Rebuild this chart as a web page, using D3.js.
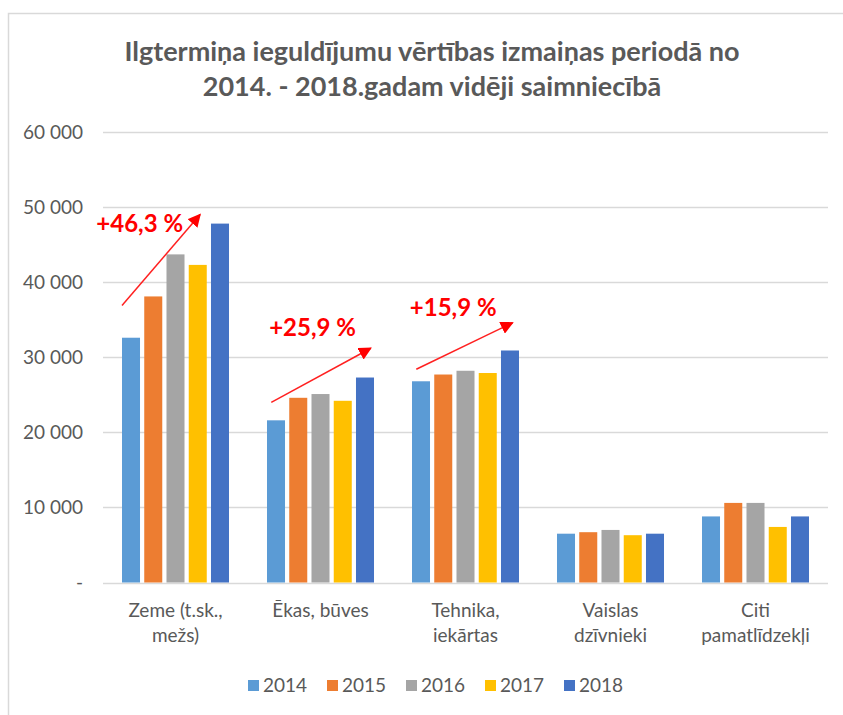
<!DOCTYPE html>
<html><head><meta charset="utf-8">
<script src="https://cdn.jsdelivr.net/npm/d3@7"></script>
<style>
html,body{margin:0;padding:0;background:#fff;}
svg{display:block;font-family:Lato,"Open Sans",sans-serif;}
</style></head>
<body>
<svg id="chart" width="843" height="715"></svg>
<script>
const titleLines = ["Ilgtermiņa ieguldījumu vērtības izmaiņas periodā no", "2014. - 2018.gadam vidēji saimniecībā"];
const categories = ["Zeme (t.sk., mežs)", "Ēkas, būves", "Tehnika, iekārtas", "Vaislas dzīvnieki", "Citi pamatlīdzekļi"];
const categoryLines = [["Zeme (t.sk.,", "mežs)"], ["Ēkas, būves"], ["Tehnika,", "iekārtas"], ["Vaislas", "dzīvnieki"], ["Citi", "pamatlīdzekļi"]];
const years = ["2014", "2015", "2016", "2017", "2018"];
const colors = ["#5B9BD5", "#ED7D31", "#A5A5A5", "#FFC000", "#4472C4"];
const v2014 = [32600, 21600, 26800, 6500, 8800];
const v2015 = [38100, 24600, 27700, 6700, 10600];
const v2016 = [43700, 25100, 28200, 7000, 10600];
const v2017 = [42300, 24200, 27900, 6300, 7400];
const v2018 = [47800, 27300, 30900, 6500, 8800];
const yTicks = [0, 10000, 20000, 30000, 40000, 50000, 60000];
const annLabels = ["+46,3 %", "+25,9 %", "+15,9 %"];
const annCats = [0, 1, 2];
const annFromVal = [36900, 24000, 28400];
const annToVal = [49000, 31200, 34600];
const annTextVal = [46700, 32800, 35500];

const series = [v2014, v2015, v2016, v2017, v2018];
const svg = d3.select("#chart");
const gray = "#595959";

// outer border
svg.append("path").attr("d", "M8.5,715 V13.5 H843").attr("fill", "none").attr("stroke", "#d9d9d9").attr("stroke-width", 1.5);

const pLeft = 103, pRight = 828, pTop = 132, pBottom = 582.5;
const y = d3.scaleLinear().domain([0, 60000]).range([pBottom, pTop]);
const x0 = d3.scaleBand().domain(categories).range([pLeft, pRight]).paddingInner(0.262).paddingOuter(0.131);
const x1 = d3.scaleBand().domain(years).range([0, x0.bandwidth()]).paddingInner(0.19).paddingOuter(0);

// title
const title = svg.append("text").attr("text-anchor", "middle").attr("fill", gray)
  .attr("font-weight", "bold").attr("font-size", 27);
titleLines.forEach((t, i) => title.append("tspan").attr("x", 432).attr("y", 61 + i * 35).text(t));

// gridlines
svg.append("g").selectAll("line").data(yTicks).join("line")
  .attr("x1", pLeft).attr("x2", pRight)
  .attr("y1", d => Math.round(y(d)) + 0.5).attr("y2", d => Math.round(y(d)) + 0.5)
  .attr("stroke", "#d9d9d9").attr("stroke-width", 1.3);

// y axis labels
const fmt = d => d === 0 ? "-" : d3.format(",")(d).replace(/,/g, " ");
svg.append("g").selectAll("text").data(yTicks).join("text")
  .attr("x", 83).attr("y", d => y(d)).attr("dy", "0.35em")
  .attr("text-anchor", "end").attr("fill", gray).attr("font-size", 19)
  .text(fmt);

// bars
const groups = svg.append("g").selectAll("g").data(categories).join("g")
  .attr("transform", c => `translate(${x0(c)},0)`);
groups.selectAll("rect").data((c, ci) => years.map((yr, si) => ({yr, si, v: series[si][ci]}))).join("rect")
  .attr("x", d => x1(d.yr)).attr("width", x1.bandwidth())
  .attr("y", d => y(d.v)).attr("height", d => y(0) - y(d.v))
  .attr("fill", d => colors[d.si]);

// category labels
categories.forEach((c, i) => {
  const t = svg.append("text").attr("text-anchor", "middle").attr("fill", gray).attr("font-size", 19);
  categoryLines[i].forEach((ln, j) => t.append("tspan").attr("x", x0(c) + x0.bandwidth() / 2).attr("y", 617 + j * 25).text(ln));
});

// annotations
const defs = svg.append("defs");
defs.append("marker").attr("id", "arr").attr("viewBox", "0 0 10 10").attr("refX", 9).attr("refY", 5)
  .attr("markerWidth", 13).attr("markerHeight", 13).attr("markerUnits", "userSpaceOnUse").attr("orient", "auto")
  .append("path").attr("d", "M0,0 L10,5 L0,10 Z").attr("fill", "#ff0000");
const bw = x0.bandwidth();
const startFrac = [0.0, 0.04, 0.04], endFrac = [0.73, 0.97, 0.94], textFrac = [-0.24, 0.02, -0.02];
annLabels.forEach((lab, i) => {
  const gx = x0(categories[annCats[i]]);
  svg.append("line")
    .attr("x1", gx + startFrac[i] * bw).attr("y1", y(annFromVal[i]))
    .attr("x2", gx + endFrac[i] * bw).attr("y2", y(annToVal[i]))
    .attr("stroke", "#ff2020").attr("stroke-width", 1.5).attr("marker-end", "url(#arr)");
  svg.append("text").attr("x", gx + textFrac[i] * bw).attr("y", y(annTextVal[i]))
    .attr("fill", "#ff0000").attr("font-weight", "bold").attr("font-size", 24).text(lab);
});

// legend
const lg = svg.append("g").selectAll("g").data(years).join("g")
  .attr("transform", (d, i) => `translate(${248 + i * 79},680)`);
lg.append("rect").attr("width", 11).attr("height", 11).attr("fill", (d, i) => colors[i]);
lg.append("text").attr("x", 15).attr("y", 5.5).attr("dy", "0.35em").attr("fill", gray).attr("font-size", 19).text(d => d);
</script>
</body></html>
